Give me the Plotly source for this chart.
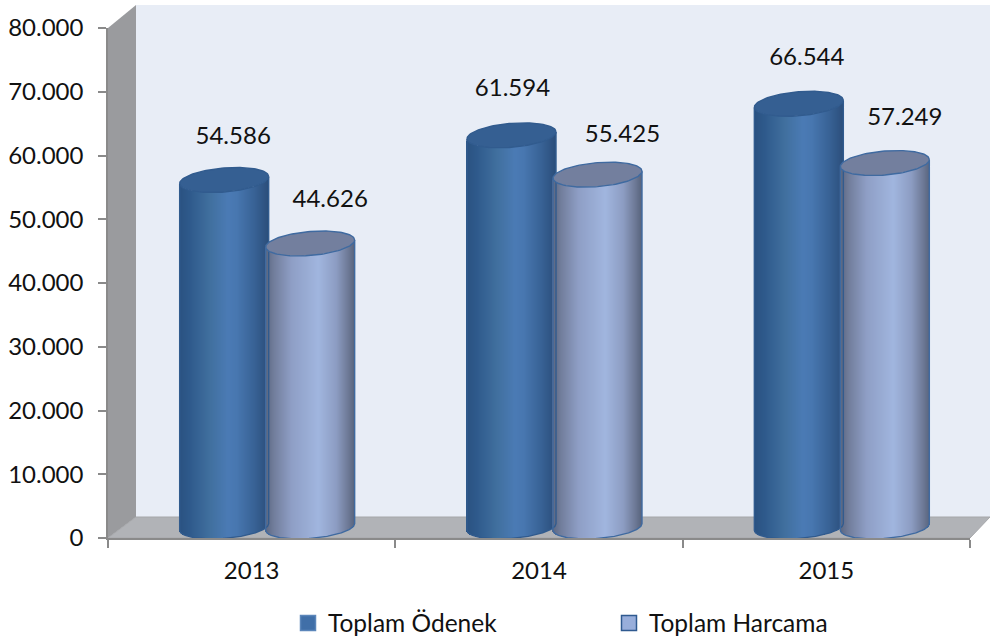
import numpy as np
import plotly.graph_objects as go

# ---- data ----
years = ["2013", "2014", "2015"]
odenek = [54586, 61594, 66544]
harcama = [44626, 55425, 57249]
yticks = [0, 10000, 20000, 30000, 40000, 50000, 60000, 70000, 80000]
series_names = ["Toplam Ödenek", "Toplam Harcama"]

# ---- layout geometry (pixels) ----
W, H = 990, 639
L, R, T, B = 108, 970, 28, 538
xu = (R - L) / 3.0          # px per category
yu = (B - T) / 80000.0      # px per value unit
def dx(px): return px / xu
def dy(px): return px / yu
def xp(px): return (px - L) / (R - L)
def yp(py): return (B - py) / (B - T)

HALF_W, ELL_B, TILT, BASE_LIFT, TOP_LIFT = 44.5, 12.0, 3.5, 11.0, 10.0
OFFS = [-27.5, 58.5]

FONT = "Lato"
FS = 24

blue_stops = [(0, "#2a5281"), (.12, "#2f5a8c"), (.35, "#41709f"), (.55, "#4b7bb5"), (.65, "#4877b0"),
              (.85, "#386295"), (1, "#2c4f7c")]
light_stops = [(0, "#5a6680"), (.1, "#727e9c"), (.3, "#8f9fc6"), (.6, "#a1b6df"), (.8, "#8d9dc3"),
               (.93, "#6f7b98"), (1, "#5a6680")]

def grad(stops, t):
    ts = [s[0] for s in stops]
    cs = np.array([[int(s[1][i:i+2], 16) for i in (1, 3, 5)] for s in stops], float)
    return "rgb(%d,%d,%d)" % tuple(np.interp(t, ts, cs[:, k]) for k in range(3))

fig = go.Figure()

def cylinder(cat, value, off, stops, top_fill, edge):
    cx = cat + dx(off)
    n = int(HALF_W * 2)
    u = (np.arange(n) + .5) / n * 2 - 1
    arc = -TILT * u + ELL_B * np.sqrt(1 - u ** 2)   # px below centre (screen)
    xs = cx + dx(u * HALF_W)
    lo = dy(BASE_LIFT - arc * 0.95)
    hi = value + dy(TOP_LIFT - arc)
    fig.add_trace(go.Bar(x=xs, y=hi - lo, base=lo, width=dx(1.3),
                         marker=dict(color=[grad(stops, (a + 1) / 2) for a in u], line=dict(width=0)),
                         showlegend=False, hoverinfo="skip"))
    # side and bottom outline
    uu = np.linspace(-1, 1, 81)
    aa = -TILT * uu + ELL_B * np.sqrt(1 - uu ** 2)
    ox = cx + dx(uu * HALF_W)
    oy = dy(BASE_LIFT - aa * 0.95)
    top_l = value + dy(TOP_LIFT - TILT)
    top_r = value + dy(TOP_LIFT + TILT)
    fig.add_trace(go.Scatter(x=[ox[0]] + list(ox) + [ox[-1]], y=[top_l] + list(oy) + [top_r], mode="lines",
                             line=dict(color=edge, width=1.4), showlegend=False, hoverinfo="skip"))
    # top ellipse
    t = np.linspace(0, 2 * np.pi, 121)
    ex = cx + dx(HALF_W * np.cos(t))
    ey = value + dy(TOP_LIFT + TILT * np.cos(t) + ELL_B * np.sin(t))
    fig.add_trace(go.Scatter(x=ex, y=ey, mode="lines", fill="toself", fillcolor=top_fill,
                             line=dict(color=edge, width=1.4), showlegend=False, hoverinfo="skip"))

for i in range(len(years)):
    cylinder(i, odenek[i], OFFS[0], blue_stops, "#355f92", "#315b8e")
    cylinder(i, harcama[i], OFFS[1], light_stops, "#737f9e", "#3f6aa0")

# data labels
label_dx = [[9, 20], [1, 25], [8, 20]]
label_gap = [[41.5, 41.5], [44, 38], [44, 43]]
for s, vals in enumerate([odenek, harcama]):
    xsl = [i + dx(OFFS[s] + label_dx[i][s]) for i in range(3)]
    ysl = [vals[i] + dy(BASE_LIFT + label_gap[i][s]) for i in range(3)]
    txt = [f"{v:,}".replace(",", ".") for v in vals]
    fig.add_trace(go.Scatter(x=xsl, y=ysl, mode="text", text=txt, textposition="middle center",
                             textfont=dict(family=FONT, size=FS, color="#111"),
                             showlegend=False, hoverinfo="skip", cliponaxis=False))

# legend proxies
for name, c, e, lg in zip(series_names, ["#406fa8", "#98aedb"], ["#5b86ba", "#2f5a90"], ["legend", "legend2"]):
    fig.add_trace(go.Scatter(x=[None], y=[None], mode="markers", name=name, legend=lg,
                             marker=dict(symbol="square", size=15, color=c, line=dict(color=e, width=1.5))))

shapes = [
    dict(type="rect", xref="paper", yref="paper", x0=xp(136), x1=xp(990), y0=yp(517), y1=yp(5),
         fillcolor="#e8edf6", line=dict(width=0), layer="below"),
    dict(type="path", xref="paper", yref="paper", layer="below",
         path=f"M{xp(108)},{yp(28)} L{xp(136)},{yp(5)} L{xp(136)},{yp(517)} L{xp(108)},{yp(538)} Z",
         fillcolor="#9a9b9e", line=dict(width=0)),
    dict(type="path", xref="paper", yref="paper", layer="below",
         path=f"M{xp(108)},{yp(538)} L{xp(136)},{yp(517)} L{xp(990)},{yp(517)} L{xp(970)},{yp(538)} Z",
         fillcolor="#b1b3b7", line=dict(color="#a6a7aa", width=1)),
]

legend_common = dict(orientation="h", xanchor="left", yanchor="middle", y=yp(623),
                     font=dict(family=FONT, size=24.5, color="#111"), bgcolor="rgba(0,0,0,0)")

fig.update_layout(
    width=W, height=H, margin=dict(l=L, r=W - R, t=T, b=H - B, pad=0, autoexpand=False),
    paper_bgcolor="white", plot_bgcolor="rgba(0,0,0,0)",
    barmode="overlay", bargap=0, separators=",.",
    font=dict(family=FONT, size=FS, color="#111"),
    shapes=shapes,
    xaxis=dict(range=[-.5, 2.5], tickmode="array", tickvals=[0, 1, 2], ticktext=years, ticks="",
               showgrid=False, zeroline=False, showline=True, linecolor="#8a8a8a", linewidth=1.5, ticklabelstandoff=10,
               automargin=False, tickfont=dict(family=FONT, size=24, color="#111"),
               minor=dict(tickmode="array", tickvals=[-.5, .5, 1.5, 2.5], ticks="outside", ticklen=8,
                          tickcolor="#8a8a8a", tickwidth=1.5, showgrid=False)),
    yaxis=dict(range=[0, 80000], tickmode="array", tickvals=yticks, tickformat=",d", ticks="outside", ticklen=8,
               tickcolor="#8a8a8a", tickwidth=1.5, showgrid=False, zeroline=False, showline=True,
               linecolor="#8a8a8a", linewidth=1.5, automargin=False, ticklabelstandoff=10,
               tickfont=dict(family=FONT, size=FS, color="#111")),
    legend=dict(x=xp(288), **legend_common),
    legend2=dict(x=xp(609), **legend_common),
)

fig.write_html("out.html", post_script="document.body.style.margin='0';", config={"displayModeBar": False})
